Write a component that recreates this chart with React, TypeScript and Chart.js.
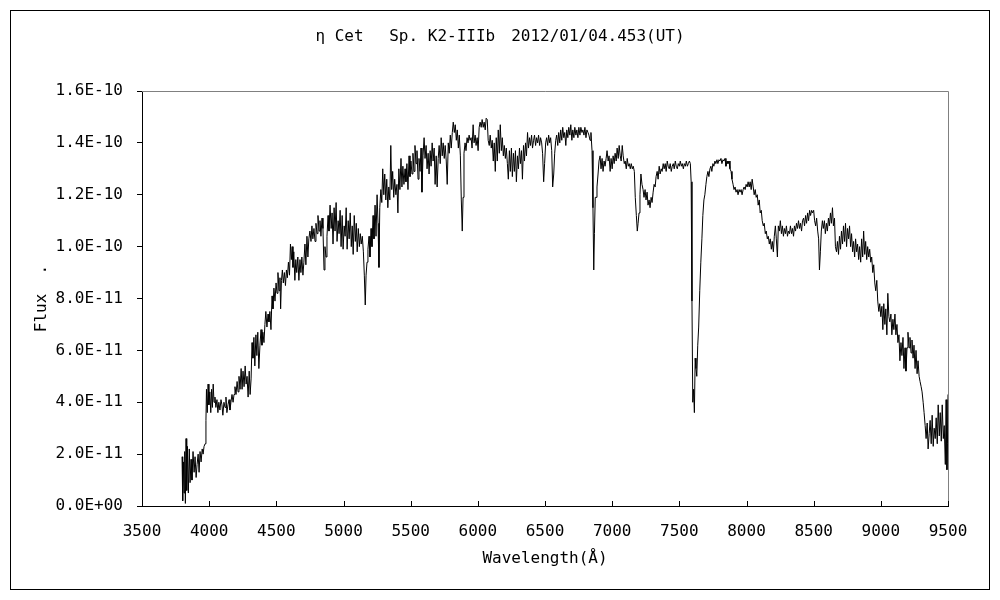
import React, { useEffect, useRef } from "react";
import { Chart, registerables } from "chart.js";

Chart.register(...registerables);

// Flux values below are in units of 1e-11
const FLUX_UNIT = 1e-11;

// [wavelength (Å), flux (×1e-11)]
const spectrum: [number, number][] = [
  [3798, 1.9], [3803, 0.2], [3808, 1.7], [3813, 0.5], [3818, 2.1], [3823, 0.1], [3828, 2.6], [3833, 0.6],
  [3838, 2.3], [3845, 0.5], [3852, 2.2], [3858, 0.9], [3865, 1.8], [3872, 1.0], [3880, 2.1], [3888, 1.3],
  [3895, 1.9], [3903, 1.1], [3910, 1.6], [3918, 2.0], [3925, 1.3], [3932, 2.1], [3940, 1.7], [3948, 2.2],
  [3955, 2.0], [3962, 2.3], [3970, 2.4], [3976, 3.3], [3980, 4.5], [3986, 3.6], [3992, 4.7], [3998, 3.9],
  [4005, 4.4], [4012, 3.6], [4018, 4.5], [4024, 3.8], [4030, 4.7], [4036, 4.0], [4043, 4.2], [4050, 3.8],
  [4058, 4.1], [4065, 3.6], [4072, 4.0], [4080, 3.7], [4088, 4.1], [4095, 3.9], [4102, 3.5], [4110, 4.0],
  [4118, 3.8], [4125, 4.2], [4132, 3.6], [4140, 3.9], [4148, 4.1], [4155, 3.7], [4162, 4.0], [4170, 4.3],
  [4178, 4.0], [4185, 4.3], [4192, 4.6], [4200, 4.3], [4208, 4.8], [4215, 4.4], [4222, 5.0], [4230, 4.5],
  [4238, 5.3], [4245, 4.5], [4252, 5.2], [4260, 4.6], [4268, 5.4], [4275, 4.7], [4282, 5.0], [4290, 4.2],
  [4298, 5.2], [4305, 4.3], [4312, 4.9], [4319, 6.3], [4326, 5.7], [4333, 6.5], [4340, 5.4], [4348, 6.6],
  [4355, 5.8], [4362, 6.7], [4370, 5.3], [4378, 6.2], [4386, 6.8], [4393, 6.2], [4400, 6.7], [4408, 6.3],
  [4415, 7.0], [4422, 7.5], [4430, 6.9], [4438, 7.4], [4445, 7.1], [4452, 7.5], [4460, 6.8], [4468, 8.1],
  [4475, 7.6], [4482, 8.4], [4490, 7.9], [4498, 8.6], [4505, 8.2], [4512, 9.0], [4520, 8.3], [4527, 8.8],
  [4532, 7.6], [4538, 8.7], [4545, 9.1], [4552, 8.6], [4560, 9.0], [4568, 8.5], [4575, 9.1], [4582, 8.8],
  [4590, 9.4], [4598, 8.9], [4605, 10.1], [4612, 9.5], [4618, 10.0], [4624, 9.2], [4630, 9.8], [4638, 8.7],
  [4645, 9.5], [4652, 9.0], [4660, 9.6], [4668, 8.7], [4676, 9.5], [4683, 9.0], [4690, 9.6], [4698, 8.9],
  [4705, 9.4], [4713, 10.1], [4720, 9.3], [4728, 10.4], [4735, 9.6], [4742, 10.3], [4750, 10.6], [4758, 10.2],
  [4765, 10.8], [4772, 10.3], [4780, 10.7], [4788, 10.2], [4795, 10.9], [4803, 10.5], [4810, 11.2], [4818, 10.6],
  [4825, 11.0], [4832, 10.4], [4840, 11.1], [4847, 10.7], [4855, 9.1], [4862, 10.0], [4870, 9.6], [4877, 10.4],
  [4885, 11.2], [4892, 10.6], [4900, 11.6], [4908, 10.7], [4915, 11.3], [4922, 10.1], [4930, 11.5], [4937, 10.6],
  [4945, 11.7], [4952, 10.2], [4960, 11.0], [4967, 10.5], [4975, 11.4], [4982, 10.0], [4990, 11.2], [4997, 9.9],
  [5005, 10.8], [5012, 10.4], [5020, 11.5], [5027, 9.9], [5035, 11.0], [5042, 10.3], [5050, 11.3], [5058, 10.0],
  [5065, 10.8], [5072, 9.7], [5080, 11.2], [5088, 10.2], [5095, 10.9], [5102, 9.8], [5110, 10.7], [5118, 10.0],
  [5125, 10.5], [5132, 10.1], [5140, 10.4], [5148, 9.8], [5155, 8.9], [5162, 7.75], [5168, 8.9], [5175, 9.4],
  [5182, 9.9], [5190, 10.4], [5197, 9.6], [5205, 10.7], [5212, 10.0], [5220, 11.2], [5227, 10.3], [5235, 11.6],
  [5242, 10.4], [5250, 12.0], [5257, 10.9], [5264, 9.2], [5270, 11.5], [5278, 12.2], [5285, 11.7], [5292, 13.0],
  [5300, 12.0], [5307, 12.8], [5315, 11.8], [5322, 12.6], [5330, 11.5], [5337, 12.3], [5345, 11.8], [5352, 13.9],
  [5359, 12.2], [5366, 12.9], [5374, 11.9], [5381, 12.6], [5390, 12.0], [5398, 12.4], [5405, 11.3], [5412, 13.0],
  [5420, 12.2], [5428, 13.4], [5435, 12.3], [5442, 13.1], [5450, 12.4], [5458, 13.0], [5465, 12.5], [5472, 13.2],
  [5480, 12.2], [5488, 13.5], [5495, 12.7], [5502, 13.3], [5510, 12.8], [5517, 13.6], [5525, 12.9], [5532, 13.9],
  [5540, 13.2], [5547, 13.7], [5555, 12.6], [5562, 13.4], [5570, 12.9], [5577, 13.8], [5584, 12.1], [5592, 13.5],
  [5600, 14.2], [5607, 13.4], [5615, 13.9], [5622, 13.0], [5630, 13.6], [5637, 12.8], [5645, 13.7], [5652, 13.1],
  [5660, 14.0], [5667, 13.3], [5675, 13.8], [5682, 12.4], [5690, 13.5], [5697, 12.3], [5705, 13.4], [5712, 13.9],
  [5720, 13.2], [5727, 14.2], [5735, 13.5], [5742, 14.0], [5750, 13.4], [5757, 13.9], [5765, 13.3], [5772, 12.4],
  [5780, 14.0], [5787, 13.6], [5795, 14.3], [5802, 13.8], [5810, 14.4], [5817, 14.8], [5825, 14.4], [5832, 14.7],
  [5840, 14.1], [5847, 14.5], [5855, 13.8], [5862, 14.3], [5870, 13.5], [5877, 11.8], [5884, 10.6], [5890, 11.9],
  [5897, 13.6], [5905, 14.0], [5912, 13.7], [5920, 14.2], [5927, 14.0], [5935, 14.3], [5942, 14.1], [5950, 14.2],
  [5957, 13.8], [5965, 14.7], [5972, 14.0], [5980, 14.3], [5987, 13.9], [5995, 14.2], [6002, 13.7], [6010, 14.6],
  [6017, 14.8], [6025, 14.6], [6032, 14.9], [6040, 14.6], [6047, 14.8], [6055, 14.5], [6062, 14.95], [6070, 14.9],
  [6077, 14.1], [6085, 13.9], [6092, 14.3], [6100, 13.8], [6107, 14.1], [6115, 13.3], [6122, 14.0], [6130, 12.9],
  [6137, 14.2], [6145, 13.3], [6152, 14.5], [6160, 13.6], [6167, 14.7], [6175, 13.7], [6182, 14.2], [6190, 13.5],
  [6197, 13.9], [6205, 13.4], [6212, 13.8], [6220, 13.2], [6227, 12.6], [6235, 13.7], [6242, 12.9], [6250, 13.8],
  [6257, 12.7], [6265, 13.6], [6272, 12.9], [6280, 13.7], [6287, 12.5], [6295, 13.5], [6302, 13.0], [6310, 13.8],
  [6317, 13.2], [6325, 13.7], [6332, 12.6], [6340, 13.9], [6347, 13.3], [6355, 14.0], [6362, 13.5], [6370, 14.4],
  [6377, 13.8], [6385, 14.2], [6392, 13.9], [6400, 14.3], [6407, 13.8], [6415, 14.1], [6422, 14.3], [6430, 13.9],
  [6437, 14.2], [6445, 14.0], [6452, 14.3], [6460, 13.9], [6467, 14.2], [6475, 14.0], [6482, 13.6], [6490, 12.5],
  [6497, 13.2], [6505, 14.0], [6512, 14.2], [6520, 13.9], [6527, 14.3], [6535, 14.0], [6542, 14.2], [6550, 13.7],
  [6557, 12.3], [6565, 12.8], [6572, 13.6], [6580, 14.1], [6587, 14.3], [6595, 13.9], [6602, 14.4], [6610, 14.0],
  [6617, 14.5], [6625, 14.1], [6632, 14.6], [6640, 14.2], [6647, 14.4], [6655, 13.9], [6662, 14.5], [6670, 14.2],
  [6677, 14.6], [6685, 14.3], [6692, 14.7], [6700, 14.1], [6707, 14.5], [6715, 14.2], [6722, 14.6], [6730, 14.3],
  [6737, 14.5], [6745, 14.2], [6752, 14.6], [6760, 14.3], [6767, 14.6], [6775, 14.4], [6782, 14.5], [6790, 14.3],
  [6797, 14.6], [6805, 14.2], [6812, 14.5], [6820, 14.4], [6827, 14.3], [6835, 14.1], [6842, 14.4], [6850, 13.7],
  [6857, 11.5], [6863, 9.1], [6868, 10.5], [6874, 11.9], [6880, 11.9], [6887, 12.3], [6895, 12.8], [6902, 13.3],
  [6910, 13.5], [6917, 13.0], [6925, 13.4], [6932, 12.9], [6940, 13.3], [6947, 13.1], [6955, 13.4], [6962, 13.7],
  [6970, 13.3], [6977, 13.5], [6985, 12.9], [6992, 13.4], [7000, 13.0], [7007, 13.5], [7015, 13.2], [7022, 13.6],
  [7030, 13.3], [7037, 13.8], [7045, 13.4], [7052, 13.9], [7060, 13.5], [7067, 13.3], [7075, 13.9], [7082, 13.5],
  [7090, 13.2], [7097, 13.3], [7105, 13.0], [7112, 13.4], [7120, 13.1], [7127, 13.2], [7135, 13.0], [7142, 13.2],
  [7150, 13.0], [7157, 13.1], [7165, 12.9], [7172, 11.9], [7180, 11.2], [7187, 10.6], [7193, 10.9], [7200, 11.3],
  [7207, 12.0], [7214, 12.8], [7222, 12.4], [7230, 12.2], [7237, 11.9], [7245, 12.2], [7252, 11.8], [7260, 12.1],
  [7267, 11.6], [7275, 11.8], [7282, 11.5], [7290, 11.9], [7297, 11.7], [7305, 12.1], [7312, 12.4], [7320, 12.3],
  [7327, 12.7], [7335, 12.9], [7342, 12.6], [7350, 13.1], [7357, 12.8], [7365, 13.0], [7372, 12.9], [7380, 13.2],
  [7387, 13.0], [7395, 13.2], [7402, 12.9], [7410, 13.3], [7417, 13.1], [7425, 13.0], [7432, 13.2], [7440, 12.9],
  [7447, 13.1], [7455, 13.2], [7462, 13.0], [7470, 13.3], [7477, 13.1], [7485, 13.0], [7492, 13.2], [7500, 13.1],
  [7507, 13.3], [7515, 13.1], [7522, 13.2], [7530, 13.0], [7537, 13.2], [7545, 13.1], [7552, 13.3], [7560, 13.1],
  [7567, 13.2], [7575, 13.3], [7582, 13.2], [7588, 12.5], [7594, 7.9], [7600, 4.0], [7606, 4.5], [7612, 3.6],
  [7618, 5.7], [7624, 5.3], [7630, 5.0], [7637, 6.2], [7644, 6.9], [7652, 8.3], [7660, 9.4], [7668, 10.3],
  [7675, 11.2], [7683, 11.8], [7690, 12.0], [7698, 12.4], [7705, 12.7], [7713, 12.9], [7720, 12.7], [7728, 13.0],
  [7735, 13.1], [7742, 12.9], [7750, 13.2], [7757, 13.1], [7765, 13.3], [7772, 13.2], [7780, 13.35], [7787, 13.2],
  [7795, 13.35], [7802, 13.3], [7810, 13.4], [7817, 13.2], [7825, 13.35], [7832, 13.3], [7840, 13.4], [7847, 13.1],
  [7855, 13.3], [7862, 13.2], [7870, 13.3], [7877, 13.0], [7885, 12.9], [7892, 12.6], [7900, 12.4], [7907, 12.2],
  [7915, 12.3], [7922, 12.1], [7930, 12.2], [7937, 12.0], [7945, 12.2], [7952, 12.1], [7960, 12.2], [7967, 12.0],
  [7975, 12.2], [7982, 12.3], [7990, 12.2], [7997, 12.4], [8005, 12.3], [8012, 12.5], [8020, 12.3], [8027, 12.5],
  [8035, 12.2], [8042, 12.6], [8050, 12.3], [8057, 12.0], [8065, 12.2], [8072, 11.9], [8080, 12.0], [8087, 11.6],
  [8095, 11.8], [8102, 11.3], [8110, 11.4], [8117, 11.0], [8125, 10.8], [8132, 10.9], [8140, 10.5], [8147, 10.6],
  [8155, 10.3], [8162, 10.4], [8170, 10.1], [8177, 10.3], [8185, 9.9], [8192, 10.2], [8200, 9.8], [8207, 10.4],
  [8215, 10.8], [8222, 10.3], [8230, 9.6], [8237, 10.8], [8245, 10.6], [8252, 11.0], [8260, 10.5], [8267, 10.8],
  [8275, 10.4], [8282, 10.7], [8290, 10.5], [8297, 10.8], [8305, 10.4], [8312, 10.6], [8320, 10.5], [8327, 10.8],
  [8335, 10.5], [8342, 10.7], [8350, 10.4], [8357, 10.8], [8365, 10.6], [8372, 10.9], [8380, 10.7], [8387, 11.0],
  [8395, 10.7], [8402, 10.9], [8410, 10.6], [8417, 11.0], [8425, 11.1], [8432, 10.8], [8440, 11.2], [8447, 10.9],
  [8455, 11.3], [8462, 11.0], [8470, 11.4], [8477, 11.2], [8485, 11.4], [8492, 11.3], [8500, 11.4], [8507, 11.0],
  [8515, 10.8], [8522, 11.1], [8530, 10.6], [8537, 10.3], [8543, 9.1], [8550, 9.8], [8557, 10.6], [8565, 11.0],
  [8572, 10.7], [8580, 11.0], [8587, 10.5], [8595, 10.9], [8602, 10.6], [8610, 11.1], [8617, 10.8], [8625, 11.3],
  [8632, 10.9], [8640, 11.5], [8647, 10.8], [8655, 11.1], [8662, 10.0], [8670, 9.8], [8677, 10.2], [8685, 9.7],
  [8692, 10.4], [8700, 9.9], [8707, 10.6], [8715, 10.1], [8722, 10.8], [8730, 10.2], [8737, 10.9], [8745, 10.0],
  [8752, 10.7], [8760, 10.3], [8767, 10.8], [8775, 10.0], [8782, 10.5], [8790, 9.8], [8797, 10.2], [8805, 9.6],
  [8812, 10.3], [8820, 9.8], [8827, 10.1], [8835, 9.5], [8842, 10.0], [8850, 9.4], [8857, 10.3], [8865, 9.6],
  [8872, 10.6], [8880, 9.7], [8887, 10.2], [8895, 9.5], [8902, 10.0], [8910, 9.6], [8917, 9.9], [8925, 9.4],
  [8932, 9.6], [8940, 9.0], [8947, 9.3], [8955, 8.6], [8962, 8.3], [8970, 8.7], [8977, 7.9], [8985, 7.5],
  [8992, 7.8], [9000, 7.3], [9008, 7.7], [9015, 6.8], [9022, 7.8], [9030, 7.0], [9037, 7.6], [9045, 6.6],
  [9052, 8.2], [9060, 7.3], [9067, 7.1], [9075, 7.4], [9082, 6.6], [9090, 7.2], [9097, 6.8], [9105, 7.4],
  [9112, 6.6], [9120, 7.0], [9127, 6.3], [9135, 6.6], [9142, 5.6], [9150, 6.3], [9157, 5.8], [9165, 6.5],
  [9172, 5.3], [9180, 6.1], [9187, 5.2], [9195, 6.1], [9202, 6.7], [9210, 6.1], [9217, 6.5], [9225, 5.9],
  [9232, 6.4], [9240, 5.7], [9247, 6.2], [9255, 5.3], [9262, 6.0], [9270, 5.1], [9277, 5.6], [9285, 5.0],
  [9292, 4.8], [9300, 4.6], [9307, 4.4], [9315, 4.0], [9322, 3.6], [9330, 3.1], [9337, 2.6], [9345, 3.2],
  [9352, 2.2], [9360, 2.8], [9367, 3.3], [9375, 2.4], [9382, 3.5], [9390, 2.3], [9397, 3.0], [9405, 2.6],
  [9412, 3.4], [9420, 2.4], [9427, 3.9], [9435, 2.7], [9442, 3.6], [9450, 2.5], [9457, 3.9], [9465, 2.6],
  [9472, 3.1], [9480, 1.6], [9486, 4.1], [9492, 1.4], [9496, 2.4], [9500, 4.3],
];

const xTickLabels = ["3500", "4000", "4500", "5000", "5500", "6000", "6500", "7000", "7500", "8000", "8500", "9000", "9500"];
const yTickLabels = ["0.0E+00", "2.0E-11", "4.0E-11", "6.0E-11", "8.0E-11", "1.0E-10", "1.2E-10", "1.4E-10", "1.6E-10"];

const X_MIN = 3500;
const X_MAX = 9500;
const X_STEP = 500;
const Y_MIN = 0;
const Y_MAX = 1.6e-10;
const Y_STEP = 2e-11;

const chartTitle = "η Cet　 Sp. K2-IIIb　2012/01/04.453(UT)";
const xAxisTitle = "Wavelength(Å)";
const yAxisTitle = "Flux  .";

const FONT = "'DejaVu Sans Mono', monospace";

export default function App() {
  const canvasRef = useRef<HTMLCanvasElement | null>(null);

  useEffect(() => {
    document.body.style.margin = "0";
    const canvas = canvasRef.current;
    if (!canvas) return;

    const framePlugin = {
      id: "frame",
      beforeDraw(chart: any) {
        const c = chart.ctx;
        c.save();
        c.fillStyle = "#ffffff";
        c.fillRect(0, 0, chart.width, chart.height);
        c.strokeStyle = "#000000";
        c.lineWidth = 1;
        c.strokeRect(10.5, 10.5, 979, 579);
        c.restore();
      },
      afterDraw(chart: any) {
        const c = chart.ctx;
        const { left, right, top, bottom } = chart.chartArea;
        c.save();
        c.strokeStyle = "#808080";
        c.lineWidth = 1;
        c.beginPath();
        c.moveTo(left, Math.round(top) + 0.5);
        c.lineTo(Math.round(right) + 0.5, Math.round(top) + 0.5);
        c.lineTo(Math.round(right) + 0.5, bottom);
        c.stroke();
        // inside tick marks on the x axis
        const xs = chart.scales.x;
        c.strokeStyle = "#000000";
        c.beginPath();
        xs.ticks.forEach((t: any) => {
          const px = Math.round(xs.getPixelForValue(t.value)) + 0.5;
          c.moveTo(px, bottom);
          c.lineTo(px, bottom - 5);
        });
        c.stroke();
        c.restore();
      },
    };

    const chart = new Chart(canvas, {
      type: "line",
      data: {
        datasets: [
          {
            label: "Flux",
            data: spectrum.map(([w, f]) => ({ x: w, y: f * FLUX_UNIT })),
            borderColor: "#000000",
            borderWidth: 1,
            pointRadius: 0,
            tension: 0,
            fill: false,
            xAxisID: "x",
            yAxisID: "y",
          },
        ],
      },
      options: {
        animation: false,
        responsive: false,
        devicePixelRatio: 1,
        layout: { padding: { left: 10, right: 10, top: 0, bottom: 10 } },
        plugins: {
          legend: { display: false },
          tooltip: { enabled: false },
          title: {
            display: true,
            text: chartTitle,
            color: "#000000",
            font: { family: FONT, size: 16, weight: "normal", lineHeight: 1.125 },
            padding: { top: 28, bottom: 45 },
          },
        },
        scales: {
          x: {
            type: "linear",
            min: X_MIN,
            max: X_MAX,
            grid: { display: false, drawTicks: false },
            border: { display: true, color: "#000000", width: 1 },
            ticks: {
              stepSize: X_STEP,
              color: "#000000",
              font: { family: FONT, size: 16 },
              padding: 16,
              maxRotation: 0,
              autoSkip: false,
              callback: (_v: any, i: number) => xTickLabels[i],
            },
            title: {
              display: true,
              text: xAxisTitle,
              color: "#000000",
              font: { family: FONT, size: 16, lineHeight: 1.125 },
              padding: { top: 0, bottom: 22 },
            },
            afterFit: (scale: any) => {
              scale.height = 84;
            },
          },
          y: {
            type: "linear",
            position: "left",
            min: Y_MIN,
            max: Y_MAX,
            grid: { display: true, drawOnChartArea: false, drawTicks: true, tickLength: 5, color: "#000000" },
            border: { display: true, color: "#000000", width: 1 },
            ticks: {
              stepSize: Y_STEP,
              color: "#000000",
              font: { family: FONT, size: 16 },
              padding: 14,
              autoSkip: false,
              callback: (_v: any, i: number) => yTickLabels[i],
            },
            title: {
              display: true,
              text: yAxisTitle,
              color: "#000000",
              font: { family: FONT, size: 16, lineHeight: 1.125 },
              padding: { top: 23, bottom: 0 },
            },
            afterFit: (scale: any) => {
              scale.width = 132;
            },
          },
          yRightSpace: {
            type: "linear",
            position: "right",
            display: true,
            grid: { display: false, drawTicks: false },
            border: { display: false },
            ticks: { display: false },
            afterFit: (scale: any) => {
              scale.width = 42;
            },
          },
        },
      },
      plugins: [framePlugin],
    } as any);

    return () => {
      chart.destroy();
    };
  }, []);

  return (
    <div style={{ width: 1000, height: 600 }}>
      <canvas ref={canvasRef} width={1000} height={600} style={{ display: "block" }} />
    </div>
  );
}
